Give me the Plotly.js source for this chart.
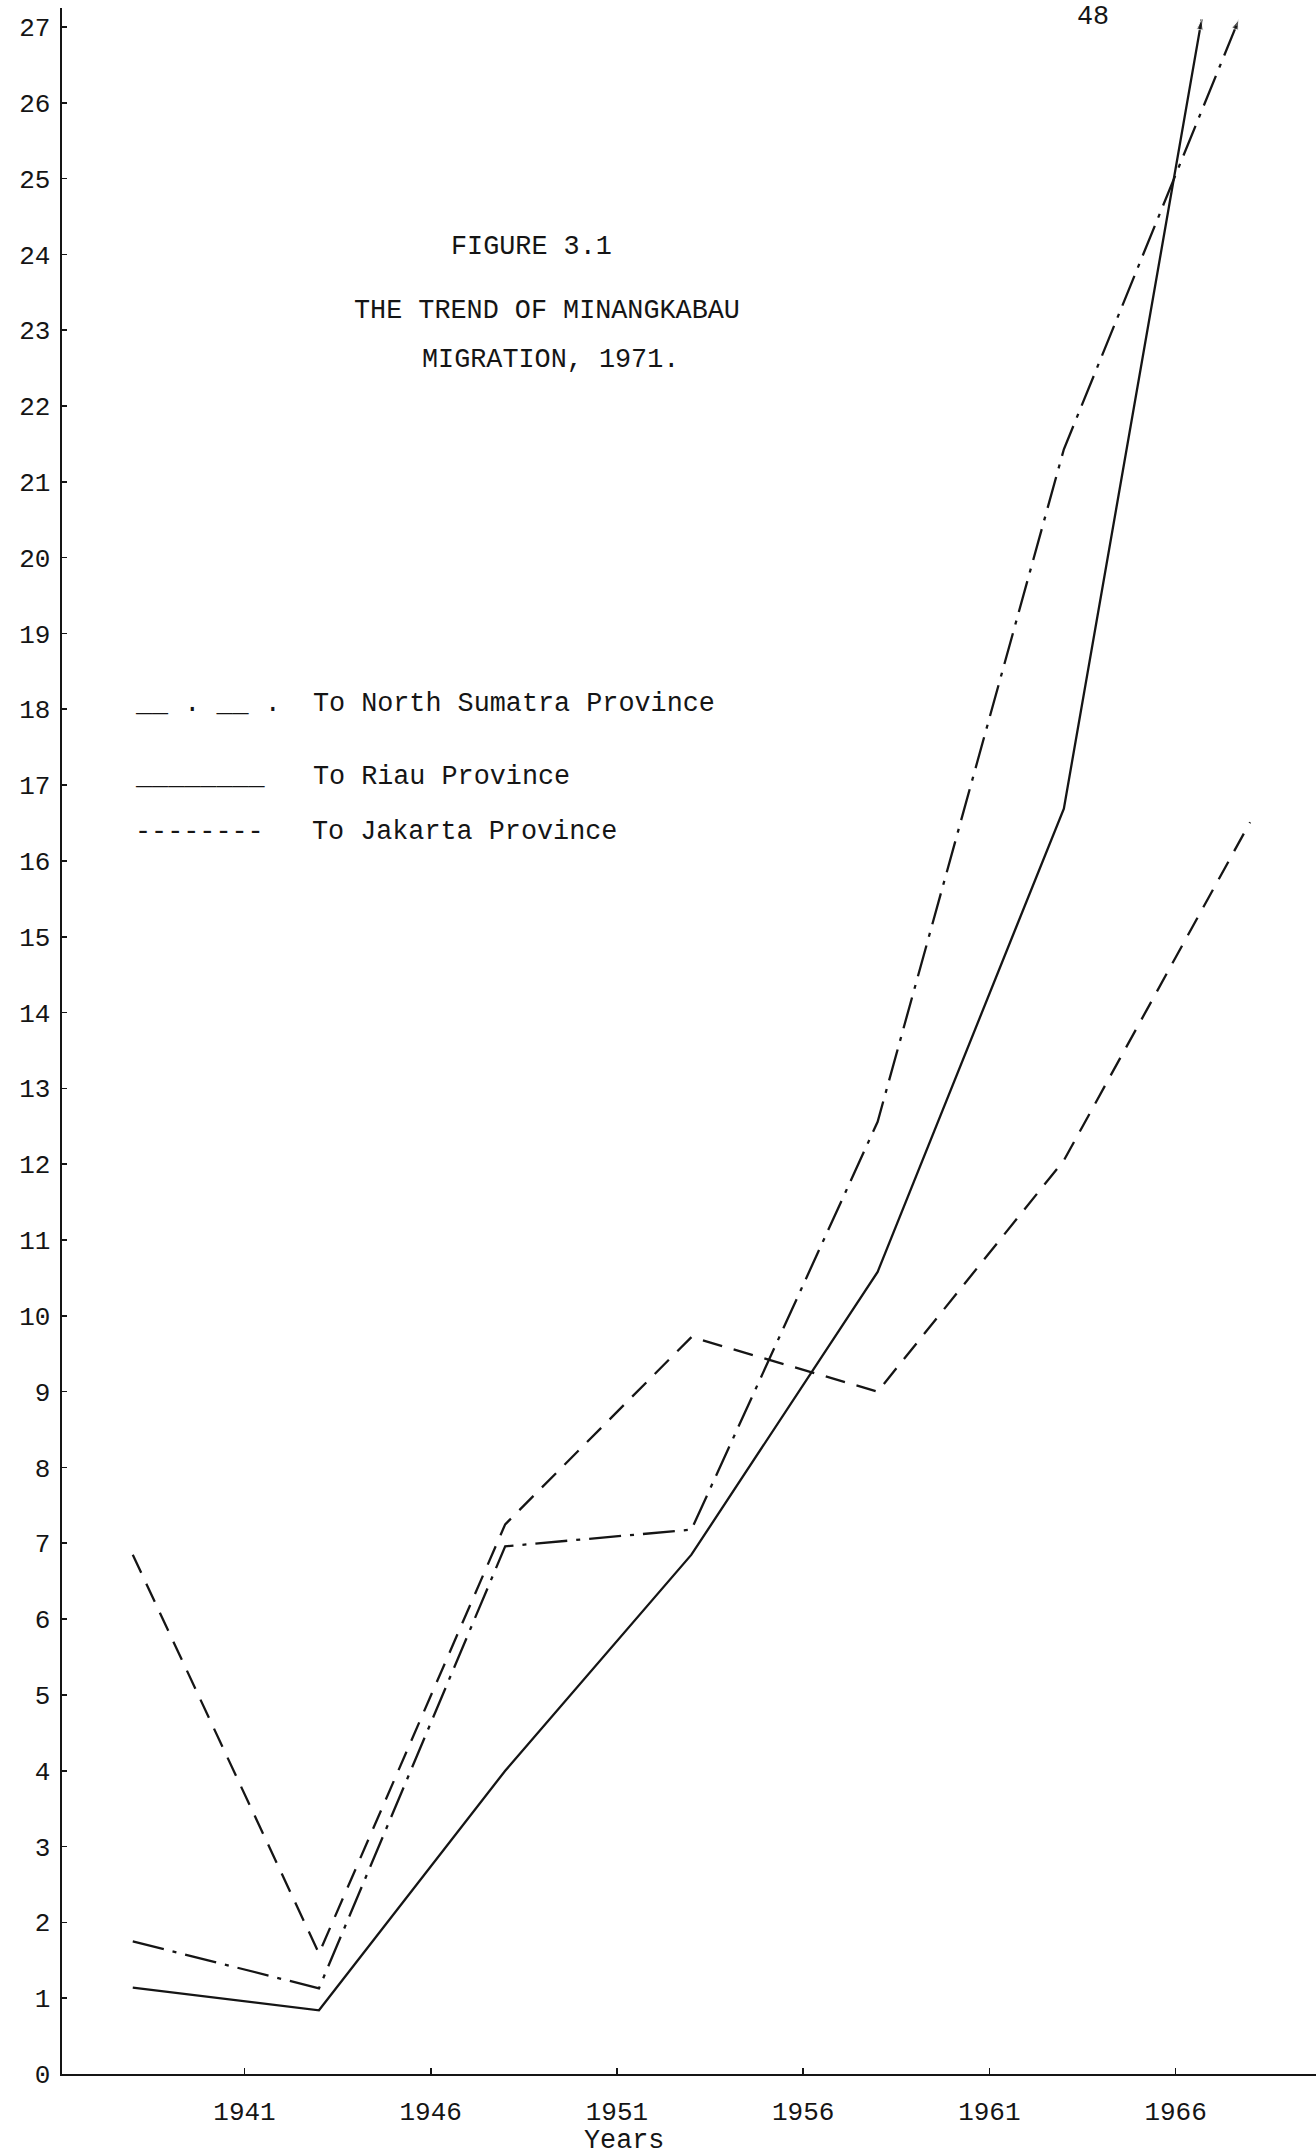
<!DOCTYPE html>
<html>
<head>
<meta charset="utf-8">
<script src="https://cdn.plot.ly/plotly-3.0.1.min.js"></script>
<style>
  html, body { margin: 0; padding: 0; background: #fff; overflow: hidden; }
  #chart { width: 1316px; height: 2156px; }
</style>
</head>
<body>
<div id="chart"></div>
<script>
// ---- Data ----
const yearsNorthSumatra = [1938, 1943, 1948, 1953, 1958, 1963, 1967.7];
const northSumatra      = [1.75, 1.13, 6.96, 7.18, 12.56, 21.43, 27.1];

const yearsRiau = [1938, 1943, 1948, 1953, 1958, 1963, 1966.7];
const riau      = [1.14, 0.84, 4.0, 6.85, 10.58, 16.69, 27.1];

const yearsJakarta = [1938, 1943, 1948, 1953, 1958, 1963, 1968];
const jakarta      = [6.85, 1.59, 7.25, 9.72, 9.0, 12.05, 16.51];

const xTickYears = [1941, 1946, 1951, 1956, 1961, 1966, 1971];
const yTickValues = Array.from({length: 28}, (_, i) => i);

const seriesNames = ["To North Sumatra Province", "To Riau Province", "To Jakarta Province"];
const legendSamples = ["__ . __ .", "________ ", "--------"];

// ---- Layout geometry ----
const W = 1316, H = 2156;
const M = {l: 62, r: 0, t: 8, b: 82};
const PW = W - M.l - M.r, PH = H - M.t - M.b;
const px = x => (x - M.l) / PW;            // page px -> paper x
const py = y => (H - M.b - y) / PH;        // page px -> paper y

const FONT = '"Liberation Mono", "Courier New", monospace';
const INK = '#151515';
const TXT = 26.8;

function endArrows(n, arrow) {
  const sym = [], size = [];
  for (let i = 0; i < n; i++) {
    sym.push(i === n - 1 && arrow ? 'arrow' : 'circle');
    size.push(i === n - 1 && arrow ? 11 : 0);
  }
  return {symbol: sym, size: size, angleref: 'previous', color: INK};
}

const traces = [
  {
    x: yearsNorthSumatra, y: northSumatra, name: seriesNames[0],
    type: 'scatter', mode: 'lines+markers', cliponaxis: false,
    line: {color: INK, width: 2.3, dash: '32px,9px,4px,9px'},
    marker: endArrows(northSumatra.length, true)
  },
  {
    x: yearsRiau, y: riau, name: seriesNames[1],
    type: 'scatter', mode: 'lines+markers', cliponaxis: false,
    line: {color: INK, width: 2.3},
    marker: endArrows(riau.length, true)
  },
  {
    x: yearsJakarta, y: jakarta, name: seriesNames[2],
    type: 'scatter', mode: 'lines', cliponaxis: false,
    line: {color: INK, width: 2.3, dash: '20px,12px'}
  }
];

const annotations = [
  {text: 'FIGURE 3.1', x: px(531), y: py(247)},
  {text: 'THE TREND OF MINANGKABAU', x: px(547), y: py(311)},
  {text: 'MIGRATION, 1971.', x: px(550), y: py(360)},
  {text: 'Years', x: px(624), y: py(2141)},
  {text: '48', x: px(1093), y: py(17)}
].map(a => Object.assign({
  xref: 'paper', yref: 'paper', showarrow: false,
  xanchor: 'center', yanchor: 'middle',
  font: {family: FONT, size: TXT, color: INK}
}, a));

const legendRows = [704, 777, 832];
seriesNames.forEach((name, i) => {
  annotations.push({
    xref: 'paper', yref: 'paper', showarrow: false,
    xanchor: 'left', yanchor: 'middle',
    x: px(133), y: py(legendRows[i]),
    text: legendSamples[i].padEnd(11, ' ').replace(/ /g, '&nbsp;') + name,
    font: {family: FONT, size: TXT, color: INK}
  });
});

const layout = {
  width: W, height: H,
  margin: M,
  paper_bgcolor: '#fff', plot_bgcolor: '#fff',
  showlegend: false,
  font: {family: FONT, color: INK},
  xaxis: {
    range: [1936.1, 1969.77],
    tickvals: xTickYears,
    ticktext: xTickYears.map(String),
    showgrid: false, zeroline: false,
    showline: true, linecolor: INK, linewidth: 2.4,
    ticks: 'inside', ticklen: 6, tickwidth: 1.6, tickcolor: INK,
    ticklabelstandoff: 12,
    tickfont: {family: FONT, size: 26, color: INK}
  },
  yaxis: {
    range: [0, 27.25],
    tickvals: yTickValues,
    ticktext: yTickValues.map(String),
    showgrid: false, zeroline: false,
    showline: true, linecolor: INK, linewidth: 2.4,
    ticks: 'inside', ticklen: 5, tickwidth: 1.6, tickcolor: INK,
    ticklabelstandoff: 4,
    tickfont: {family: FONT, size: 26, color: INK}
  },
  annotations: annotations
};

Plotly.newPlot('chart', traces, layout, {staticPlot: true, displayModeBar: false});
</script>
</body>
</html>
